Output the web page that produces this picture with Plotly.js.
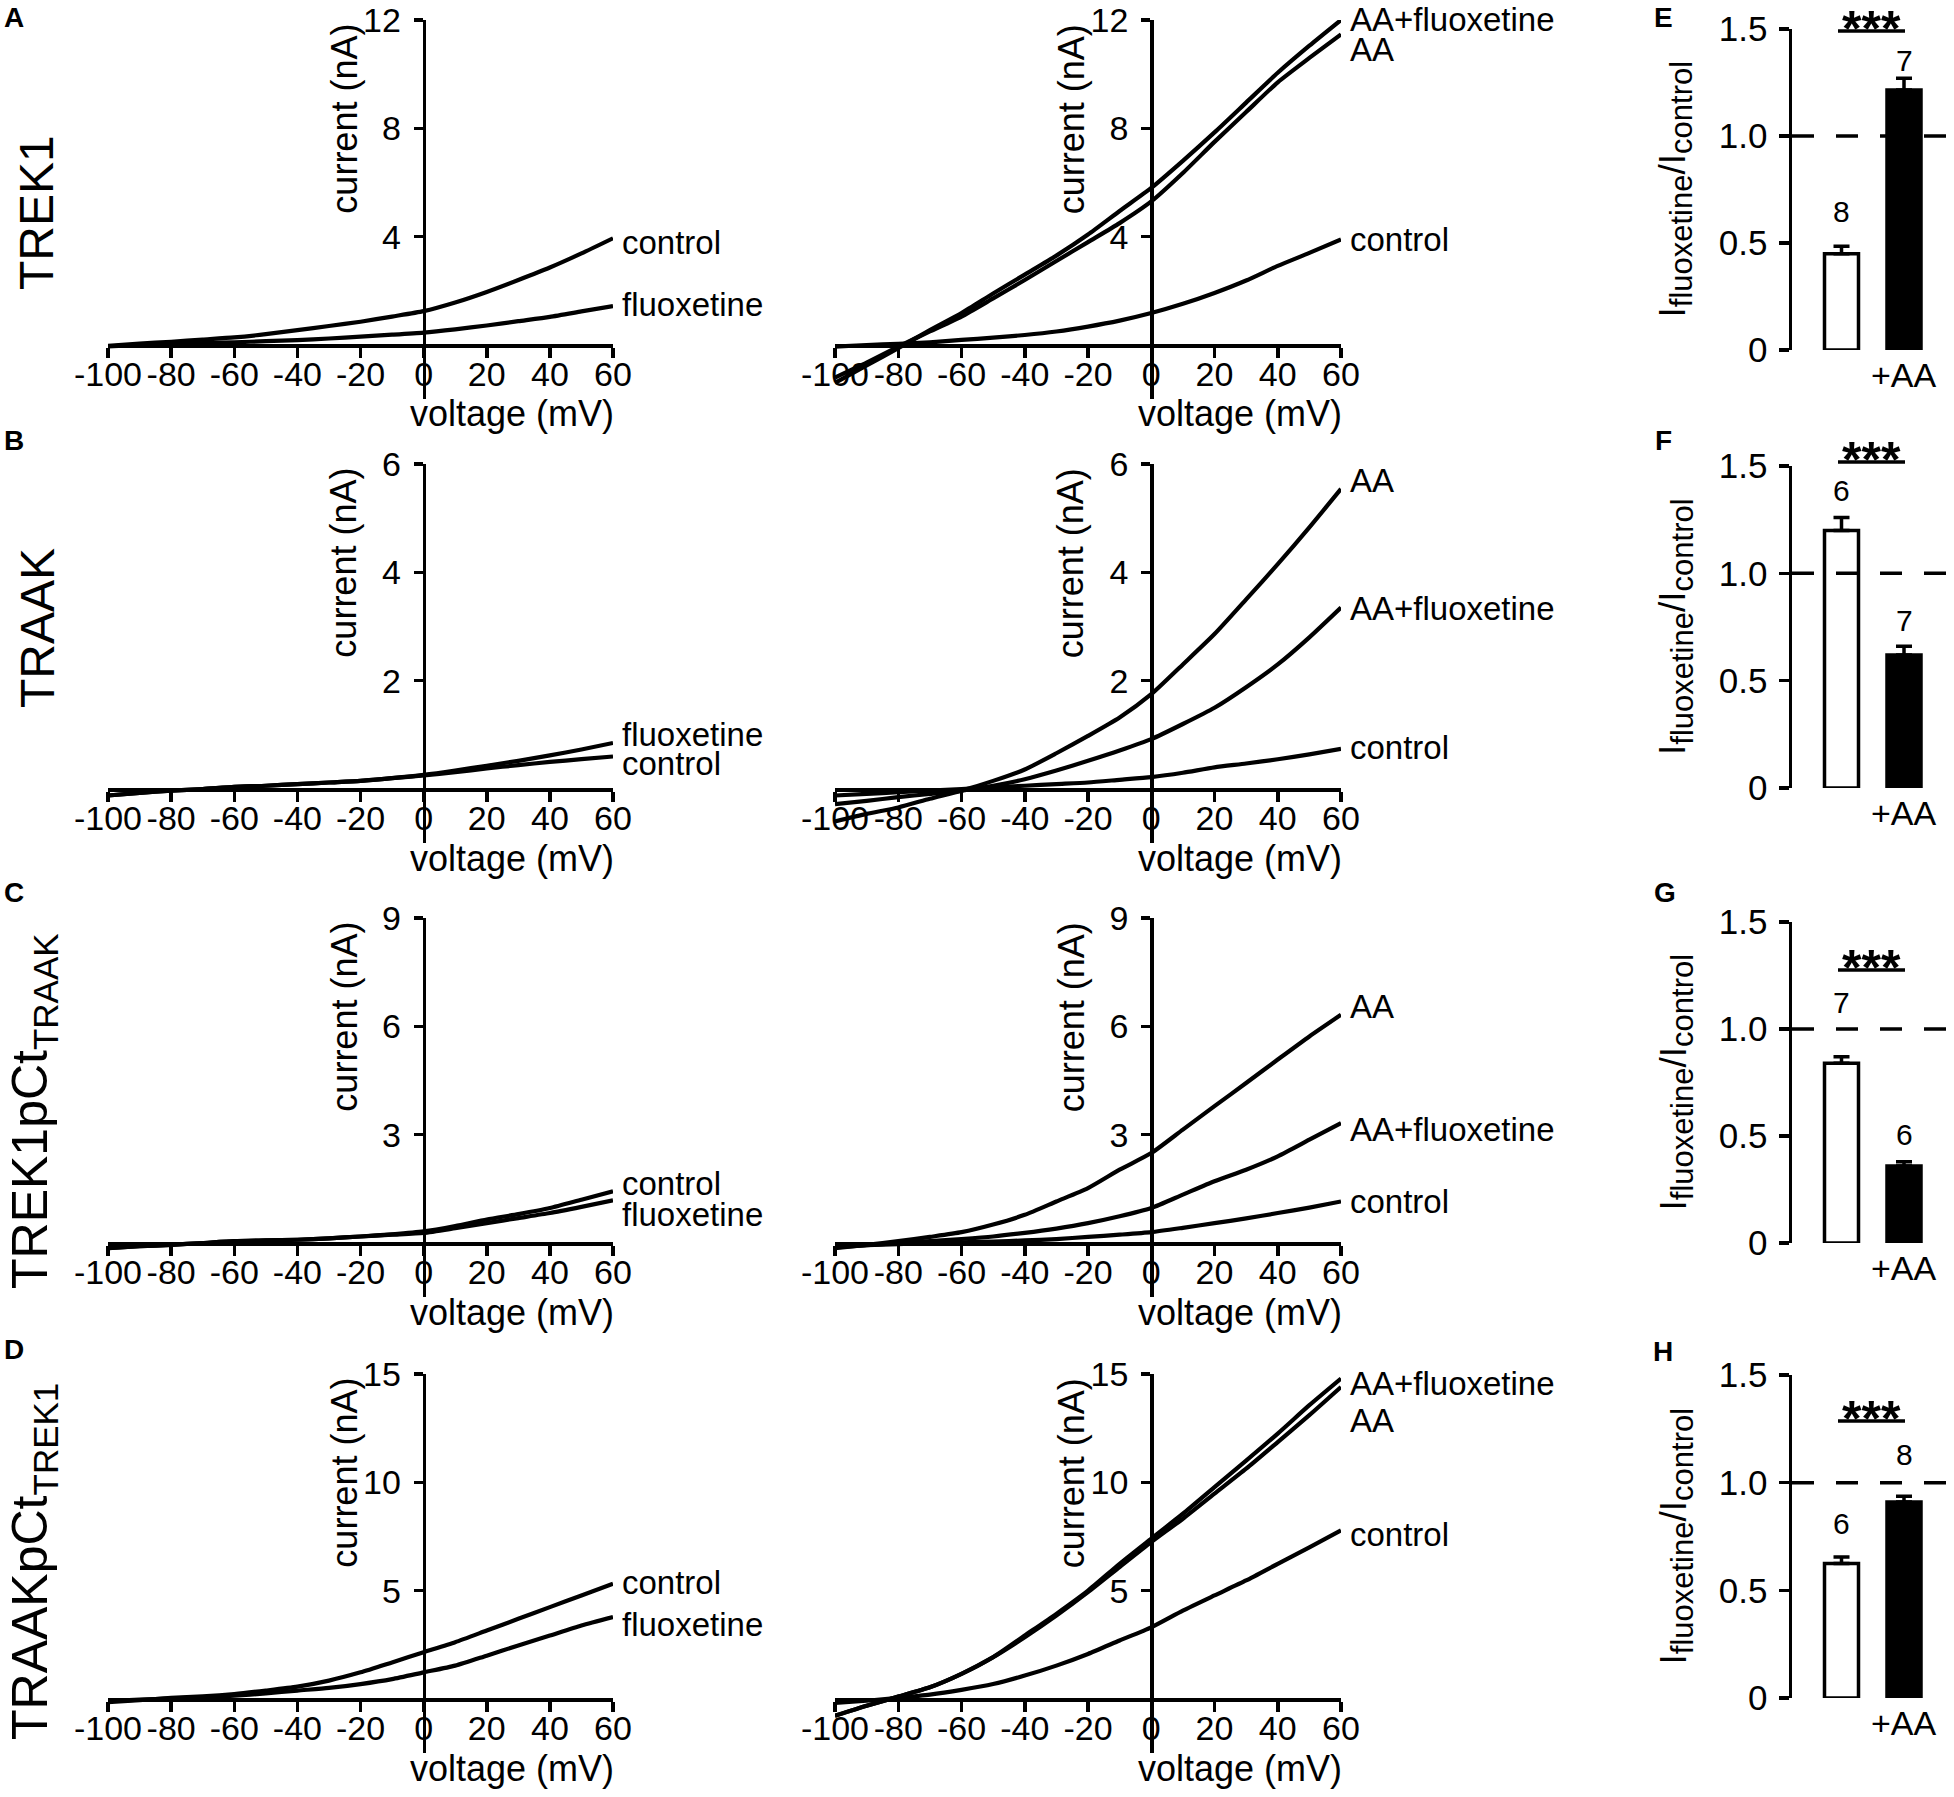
<!DOCTYPE html>
<html>
<head>
<meta charset="utf-8">
<script src="https://cdn.plot.ly/plotly-3.0.1.min.js"></script>
<style>
  html, body { margin: 0; padding: 0; background: #ffffff; }
  #chart { width: 1954px; height: 1797px; }
</style>
</head>
<body>
<div id="chart"></div>
<script>
// ---------------- DATA ----------------
const voltage = [-100, -90, -80, -70, -60, -50, -40, -30, -20, -10, 0, 10, 20, 30, 40, 50, 60];
const xTicks = [-100, -80, -60, -40, -20, 0, 20, 40, 60];
const xTickText = ['-100', '-80', '-60', '-40', '-20', '0', '20', '40', '60'];

// Row A: TREK1
const trek1_control      = [-0.03, 0.05, 0.12, 0.2, 0.28, 0.4, 0.55, 0.7, 0.86, 1.05, 1.25, 1.57, 1.96, 2.4, 2.86, 3.38, 3.94];
const trek1_fluoxetine   = [-0.05, 0.0, 0.04, 0.07, 0.1, 0.14, 0.18, 0.24, 0.31, 0.38, 0.46, 0.58, 0.72, 0.88, 1.04, 1.24, 1.44];
const trek1_control2     = [-0.06, 0.0, 0.04, 0.1, 0.19, 0.27, 0.37, 0.5, 0.68, 0.9, 1.18, 1.52, 1.92, 2.38, 2.92, 3.4, 3.9];
const trek1_AA           = [-1.2, -0.65, -0.06, 0.5, 1.05, 1.72, 2.4, 3.1, 3.8, 4.5, 5.3, 6.35, 7.5, 8.6, 9.7, 10.6, 11.47];
const trek1_AAfluox      = [-1.4, -0.75, -0.12, 0.55, 1.18, 1.9, 2.6, 3.3, 4.08, 4.95, 5.8, 6.8, 7.85, 8.95, 10.05, 11.05, 12.0];

// Row B: TRAAK
const traak_control      = [-0.12, -0.07, -0.03, 0.0, 0.04, 0.06, 0.09, 0.12, 0.15, 0.2, 0.25, 0.31, 0.38, 0.44, 0.5, 0.55, 0.6];
const traak_fluoxetine   = [-0.12, -0.07, -0.03, 0.0, 0.04, 0.06, 0.09, 0.12, 0.15, 0.2, 0.26, 0.34, 0.43, 0.52, 0.62, 0.73, 0.85];
const traak_control2     = [-0.12, -0.09, -0.06, -0.03, 0.0, 0.03, 0.06, 0.09, 0.12, 0.17, 0.22, 0.3, 0.4, 0.47, 0.55, 0.64, 0.74];
const traak_AA           = [-0.6, -0.46, -0.34, -0.18, -0.03, 0.15, 0.36, 0.66, 0.98, 1.32, 1.75, 2.3, 2.86, 3.5, 4.15, 4.83, 5.54];
const traak_AAfluox      = [-0.28, -0.22, -0.15, -0.09, -0.03, 0.06, 0.18, 0.34, 0.52, 0.71, 0.92, 1.2, 1.5, 1.88, 2.3, 2.8, 3.35];

// Row C: TREK1pCt_TRAAK
const chimC_control      = [-0.14, -0.09, -0.05, 0.0, 0.05, 0.07, 0.09, 0.13, 0.18, 0.24, 0.32, 0.47, 0.65, 0.8, 0.97, 1.2, 1.43];
const chimC_fluoxetine   = [-0.14, -0.09, -0.05, 0.0, 0.05, 0.07, 0.09, 0.13, 0.18, 0.23, 0.28, 0.41, 0.55, 0.69, 0.83, 1.0, 1.18];
const chimC_control2     = [-0.09, -0.06, -0.03, 0.0, 0.02, 0.04, 0.07, 0.11, 0.17, 0.23, 0.3, 0.42, 0.55, 0.68, 0.83, 0.98, 1.15];
const chimC_AA           = [-0.14, -0.05, 0.05, 0.17, 0.3, 0.51, 0.78, 1.15, 1.52, 2.03, 2.49, 3.14, 3.79, 4.43, 5.08, 5.72, 6.32];
const chimC_AAfluox      = [-0.12, -0.06, 0.0, 0.05, 0.11, 0.18, 0.28, 0.4, 0.55, 0.74, 0.97, 1.34, 1.71, 2.03, 2.4, 2.86, 3.32];

// Row D: TRAAKpCt_TREK1
const chimD_control      = [-0.15, -0.05, 0.05, 0.12, 0.23, 0.39, 0.57, 0.85, 1.23, 1.69, 2.16, 2.62, 3.16, 3.7, 4.24, 4.78, 5.32];
const chimD_fluoxetine   = [-0.1, -0.03, 0.03, 0.08, 0.15, 0.26, 0.39, 0.51, 0.69, 0.92, 1.23, 1.54, 2.0, 2.47, 2.93, 3.39, 3.78];
const chimD_control2     = [-0.18, -0.08, 0.05, 0.2, 0.42, 0.69, 1.08, 1.54, 2.08, 2.7, 3.31, 4.08, 4.78, 5.47, 6.24, 7.0, 7.78];
const chimD_AA           = [-0.77, -0.31, 0.11, 0.54, 1.16, 1.93, 2.85, 3.85, 4.93, 6.09, 7.24, 8.32, 9.48, 10.63, 11.86, 13.1, 14.4];
const chimD_AAfluox      = [-0.77, -0.31, 0.11, 0.54, 1.16, 1.93, 2.93, 3.93, 5.0, 6.24, 7.4, 8.55, 9.78, 11.0, 12.25, 13.56, 14.79];

// y-axis maxima and ticks of the IV panels (rows A-D)
const ivYMax = [12, 6, 9, 15];
const ivYTicks = [[4, 8, 12], [2, 4, 6], [3, 6, 9], [5, 10, 15]];
const rowNames = ['TREK1', 'TRAAK', 'TREK1pCt<sub>TRAAK</sub>', 'TRAAKpCt<sub>TREK1</sub>'];

// Bar charts E-H: I_fluoxetine / I_control (mean, SEM) without / with AA
const barCategories = ['', '+AA'];
const ratioNoAA    = [0.45, 1.2, 0.84, 0.625];
const semNoAA      = [0.035, 0.06, 0.03, 0.03];
const ratioWithAA  = [1.215, 0.62, 0.36, 0.91];
const semWithAA    = [0.055, 0.04, 0.02, 0.027];
const nNoAA        = ['8', '6', '7', '6'];
const nWithAA      = ['7', '7', '6', '8'];
const barYTickVals = [0, 0.5, 1.0, 1.5];
const barYTickText = ['0', '0.5', '1.0', '1.5'];

// labels on the IV curves: [text, y value at the label]
const leftLabels = [
  [['control', 3.8], ['fluoxetine', 1.48]],
  [['fluoxetine', 1.0], ['control', 0.48]],
  [['control', 1.66], ['fluoxetine', 0.78]],
  [['control', 5.4], ['fluoxetine', 3.46]]
];
const midLabels = [
  [['AA+fluoxetine', 12.0], ['AA', 10.9], ['control', 3.9]],
  [['AA', 5.7], ['AA+fluoxetine', 3.34], ['control', 0.76]],
  [['AA', 6.54], ['AA+fluoxetine', 3.13], ['control', 1.14]],
  [['AA+fluoxetine', 14.54], ['AA', 12.87], ['control', 7.6]]
];
const leftSeries = [
  [trek1_control, trek1_fluoxetine],
  [traak_control, traak_fluoxetine],
  [chimC_control, chimC_fluoxetine],
  [chimD_control, chimD_fluoxetine]
];
const midSeries = [
  [trek1_control2, trek1_AA, trek1_AAfluox],
  [traak_control2, traak_AA, traak_AAfluox],
  [chimC_control2, chimC_AA, chimC_AAfluox],
  [chimD_control2, chimD_AA, chimD_AAfluox]
];
// n labels positions (value units) above bars
const nNoAAPos   = [0.645, 1.388, 1.126, 0.81];
const nWithAAPos = [1.355, 0.78, 0.505, 1.13];

// ---------------- LAYOUT GEOMETRY (pixels) ----------------
const W = 1954, H = 1797;
const fx = p => p / W;
const fy = p => 1 - p / H;
const rowTop  = [20, 464, 918, 1374];
const rowZero = [345, 789, 1243, 1699];
const colX = [[108, 613], [835, 1341]];
const barTop  = [29, 466, 922, 1375];
const barZero = [350, 788, 1243, 1698];
const barX = [1792, 1954];
const bar1Px = 1841.5, barUnit = 62.5;
const barRange = [1 - (bar1Px - barX[0]) / barUnit, 2 + (barX[1] - (bar1Px + barUnit)) / barUnit];
const sigLinePx = [31, 462, 970, 1421];

const FONT = 'Liberation Sans, Arial, Helvetica, sans-serif';
const traces = [];
const layout = {
  width: W, height: H,
  margin: {l: 0, r: 0, t: 0, b: 0},
  paper_bgcolor: '#ffffff', plot_bgcolor: 'rgba(0,0,0,0)',
  showlegend: false,
  font: {family: FONT, color: '#000000', size: 32},
  annotations: [], shapes: []
};

function axName(i, c) { return c + (i === 1 ? '' : i); }
function axKey(i, c) { return c + 'axis' + (i === 1 ? '' : i); }

for (let r = 0; r < 4; r++) {
  const ymax = ivYMax[r], ymin = -ymax / 6;
  const top = rowTop[r], zero = rowZero[r];
  const bottom = zero + (zero - top) / 6;
  for (let c = 0; c < 2; c++) {
    const idx = r * 3 + c + 1;
    const [xl, xr] = colX[c];
    const yAxisPx = xl + (0 - (-100)) / 160 * (xr - xl);
    layout[axKey(idx, 'x')] = {
      domain: [fx(xl), fx(xr)], range: [-100, 60], anchor: 'free', position: fy(zero),
      tickvals: xTicks, ticktext: xTickText, tickangle: 0, ticks: 'outside', ticklen: 10, tickwidth: 3.5, tickcolor: '#000',
      showline: true, linewidth: 3.5, linecolor: '#000', showgrid: false, zeroline: false,
      tickfont: {size: 34, family: FONT, color: '#000'}, ticklabelstandoff: -12, fixedrange: true
    };
    layout[axKey(idx, 'y')] = {
      domain: [fy(bottom), fy(top)], range: [ymin, ymax], anchor: 'free', position: fx(yAxisPx),
      tickvals: ivYTicks[r], ticks: 'outside', ticklen: 9, tickwidth: 3.5, tickcolor: '#000',
      showline: true, linewidth: 3.5, linecolor: '#000', showgrid: false, zeroline: false,
      tickfont: {size: 34, family: FONT, color: '#000'}, ticklabelstandoff: 6, fixedrange: true
    };
    const series = c === 0 ? leftSeries[r] : midSeries[r];
    series.forEach(s => traces.push({
      type: 'scatter', mode: 'lines', x: voltage, y: s,
      xaxis: axName(idx, 'x'), yaxis: axName(idx, 'y'),
      line: {color: '#000', width: 4.2, shape: 'spline', smoothing: 0.6},
      hoverinfo: 'skip'
    }));
    const labels = c === 0 ? leftLabels[r] : midLabels[r];
    labels.forEach(([t, yv]) => layout.annotations.push({
      text: t, x: 60, y: yv, xref: axName(idx, 'x'), yref: axName(idx, 'y'),
      xanchor: 'left', yanchor: 'middle', xshift: 7,
      showarrow: false, font: {size: 33, family: FONT, color: '#000'}
    }));
    // axis titles
    layout.annotations.push({
      text: 'current (nA)', textangle: -90, xref: 'paper', yref: 'paper',
      x: fx(yAxisPx - 80), y: fy(top + 2), xanchor: 'center', yanchor: 'top',
      showarrow: false, font: {size: 36, family: FONT, color: '#000'}
    });
    layout.annotations.push({
      text: 'voltage (mV)', xref: 'paper', yref: 'paper',
      x: fx(xr + 3), y: fy(zero + 69), xanchor: 'right', yanchor: 'middle',
      showarrow: false, font: {size: 36, family: FONT, color: '#000'}
    });
  }

  // bar panel
  const bidx = r * 3 + 3;
  layout[axKey(bidx, 'x')] = {
    domain: [fx(barX[0]), fx(barX[1])], range: barRange, anchor: axName(bidx, 'y'),
    showline: false, showticklabels: false, ticks: '', showgrid: false, zeroline: false, fixedrange: true
  };
  layout[axKey(bidx, 'y')] = {
    domain: [fy(barZero[r]), fy(barTop[r])], range: [0, 1.5], anchor: axName(bidx, 'x'),
    tickvals: barYTickVals, ticktext: barYTickText, ticks: 'outside', ticklen: 10, tickwidth: 3.5,
    tickcolor: '#000', showline: true, linewidth: 3.5, linecolor: '#000', showgrid: false, zeroline: false,
    tickfont: {size: 35, family: FONT, color: '#000'}, ticklabelstandoff: 4, fixedrange: true
  };
  traces.push({
    type: 'bar', x: [1], y: [ratioNoAA[r]], width: 0.544,
    xaxis: axName(bidx, 'x'), yaxis: axName(bidx, 'y'),
    marker: {color: '#ffffff', line: {color: '#000', width: 3.5}},
    error_y: {type: 'data', symmetric: false, array: [semNoAA[r]], arrayminus: [0], color: '#000', thickness: 3.5, width: 8},
    hoverinfo: 'skip'
  });
  traces.push({
    type: 'bar', x: [2], y: [ratioWithAA[r]], width: 0.544,
    xaxis: axName(bidx, 'x'), yaxis: axName(bidx, 'y'),
    marker: {color: '#000000', line: {color: '#000', width: 3.5}},
    error_y: {type: 'data', symmetric: false, array: [semWithAA[r]], arrayminus: [0], color: '#000', thickness: 3.5, width: 8},
    hoverinfo: 'skip'
  });
  traces.push({
    type: 'scatter', mode: 'lines', x: [barRange[0], barRange[1]], y: [1, 1],
    xaxis: axName(bidx, 'x'), yaxis: axName(bidx, 'y'),
    line: {color: '#000', width: 3.5, dash: '22px,22px'}, hoverinfo: 'skip'
  });
  layout.annotations.push({
    text: nNoAA[r], x: 1, y: nNoAAPos[r], xref: axName(bidx, 'x'), yref: axName(bidx, 'y'),
    showarrow: false, xanchor: 'center', yanchor: 'middle', font: {size: 30, family: FONT, color: '#000'}
  });
  layout.annotations.push({
    text: nWithAA[r], x: 2, y: nWithAAPos[r], xref: axName(bidx, 'x'), yref: axName(bidx, 'y'),
    showarrow: false, xanchor: 'center', yanchor: 'middle', font: {size: 30, family: FONT, color: '#000'}
  });
  layout.annotations.push({
    text: barCategories[1], x: 2, y: 0, xref: axName(bidx, 'x'), yref: axName(bidx, 'y'),
    showarrow: false, xanchor: 'center', yanchor: 'top', yshift: -4, font: {size: 34, family: FONT, color: '#000'}
  });
  // significance
  layout.shapes.push({
    type: 'line', xref: 'paper', yref: 'paper',
    x0: fx(1838), x1: fx(1905), y0: fy(sigLinePx[r]), y1: fy(sigLinePx[r]),
    line: {color: '#000', width: 3.5}
  });
  layout.annotations.push({
    text: '<b>***</b>', xref: 'paper', yref: 'paper', x: fx(1871), y: fy(sigLinePx[r] - 2),
    xanchor: 'center', yanchor: 'middle', showarrow: false, font: {size: 50, family: FONT, color: '#000'}
  });
  // bar y-axis title
  layout.annotations.push({
    text: 'I<sub><span style="font-size:31px">fluoxetine</span></sub>/I<sub><span style="font-size:31px">control</span></sub>',
    textangle: -90, xref: 'paper', yref: 'paper', x: fx(1676), y: fy((barTop[r] + barZero[r]) / 2),
    xanchor: 'center', yanchor: 'middle', showarrow: false, font: {size: 37, family: FONT, color: '#000'}
  });
  // row label
  layout.annotations.push({
    text: rowNames[r], textangle: -90, xref: 'paper', yref: 'paper',
    x: fx(r < 2 ? 37 : 33), y: fy([213, 628, 1111, 1562][r]),
    xanchor: 'center', yanchor: 'middle', showarrow: false,
    font: {size: r < 2 ? 48 : 50, family: FONT, color: '#000'}
  });
}

// panel letters
const panelLetters = [['A', 14, 18], ['B', 14, 440], ['C', 14, 892], ['D', 14, 1349],
                      ['E', 1663, 17], ['F', 1663, 440], ['G', 1665, 893], ['H', 1663, 1351]];
panelLetters.forEach(([t, px, py]) => layout.annotations.push({
  text: '<b>' + t + '</b>', xref: 'paper', yref: 'paper', x: fx(px), y: fy(py),
  xanchor: 'center', yanchor: 'middle', showarrow: false, font: {size: 28, family: FONT, color: '#000'}
}));

Plotly.newPlot('chart', traces, layout, {staticPlot: true, displayModeBar: false});
</script>
</body>
</html>
